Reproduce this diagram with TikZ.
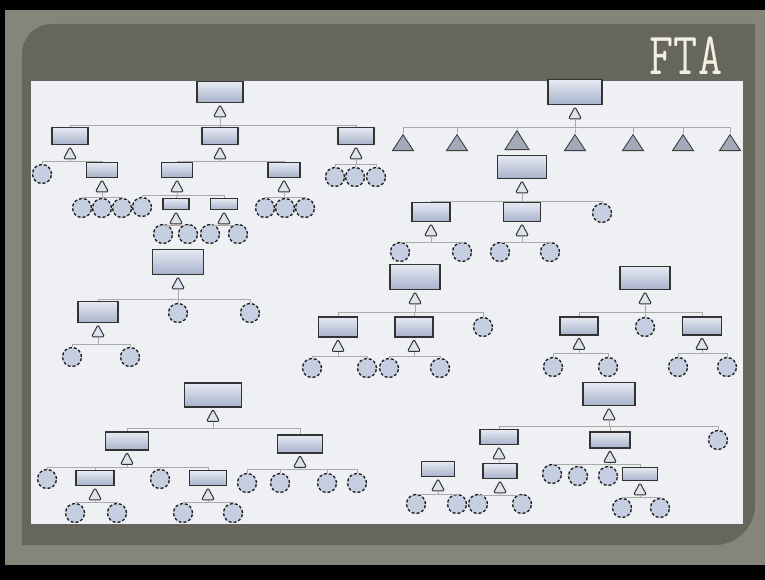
\documentclass[tikz,border=0pt]{standalone}
\usepackage{tikz}
\usepackage{graphicx}
\usetikzlibrary{positioning, shapes.geometric}

\definecolor{frameout}{HTML}{85857A}
\definecolor{framein}{HTML}{66665B}
\definecolor{sheet}{HTML}{EEF0F3}
\definecolor{boxtop}{HTML}{E6EAF3}
\definecolor{boxbot}{HTML}{A7B2CB}
\definecolor{evtfill}{HTML}{C6CEE1}
\definecolor{gatefill}{HTML}{DDE2EC}
\definecolor{xferfill}{HTML}{A2A9B8}
\definecolor{linkgray}{HTML}{A9A9A9}
\definecolor{titlecol}{HTML}{F1EFE2}

\newcommand{\gatefan}[3]{\foreach \c in {#3} \draw[link] (#1.south) -- ++(0,#2) -| (\c.north);}

\begin{document}
\begin{tikzpicture}[
    x=1pt, y=-1pt,
    box/.style 2 args={rectangle, draw=black!80, line width=1.1pt, top color=boxtop, bottom color=boxbot, minimum width=#1, minimum height=#2, inner sep=0pt},
    evt/.style={circle, draw=black!90, densely dashed, line width=1.3pt, fill=evtfill, minimum size=19pt, inner sep=0pt},
    gate/.style={isosceles triangle, isosceles triangle stretches, shape border rotate=90, draw=black!80, line width=1pt, fill=gatefill, minimum width=13pt, minimum height=12pt, inner sep=0pt, rounded corners=1.5pt},
    xfer/.style={isosceles triangle, isosceles triangle stretches, shape border rotate=90, draw=black!75, line width=0.9pt, fill=xferfill, minimum width=21pt, minimum height=16pt, inner sep=0pt},
    link/.style={draw=linkgray, line width=0.8pt},
    fta/.style={text=titlecol, font=\ttfamily\fontsize{60}{60}\selectfont, inner sep=0pt}
]
\useasboundingbox (0,0) rectangle (765,580);
\fill[black] (0,0) rectangle (765,580);
\fill[frameout] (5,10) rectangle (765,565);
\fill[framein] (22,545) -- (22,54) arc[start angle=180, end angle=270, radius=30] -- (755,24) -- (755,505) arc[start angle=0, end angle=90, radius=40] -- cycle;
\filldraw[fill=sheet, draw=black!60, line width=0.6pt] (30,80) rectangle (743,524);
\node[fta] (title) at (686,56) {\scalebox{0.78}[1]{FTA}};

\node[box={46pt}{21pt}] (top1) at (220,92) {};
\node[gate, below=0.5pt of top1] (gtop1) {};
\node[box={36pt}{17pt}] (s1a) at (70,136) {};
\node[box={36pt}{17pt}] (s1b) at (220,136) {};
\node[box={36pt}{17pt}] (s1c) at (356,136) {};
\gatefan{gtop1}{8}{s1a,s1b,s1c}
\node[gate, below=0.5pt of s1a] (gs1a) {};
\node[evt] (e1a) at (42,174) {};
\node[box={31pt}{15pt}] (s1d) at (102,170) {};
\gatefan{gs1a}{2}{e1a,s1d}
\node[gate, below=0.5pt of s1d] (gs1d) {};
\foreach \x/\n in {82/1,102/2,122/3} \node[evt] (e1d\n) at (\x,208) {};
\gatefan{gs1d}{5}{e1d1,e1d2,e1d3}
\node[gate, below=0.5pt of s1b] (gs1b) {};
\node[box={31pt}{15pt}] (s1e) at (177,170) {};
\node[box={32pt}{15pt}] (s1f) at (284,170) {};
\gatefan{gs1b}{2}{s1e,s1f}
\node[gate, below=0.5pt of s1e] (gs1e) {};
\node[evt] (e1e) at (142,207) {};
\node[box={26pt}{11pt}] (s1g) at (176,204) {};
\node[box={27pt}{11pt}] (s1h) at (224,204) {};
\gatefan{gs1e}{3}{e1e,s1g,s1h}
\node[gate, below=0.5pt of s1g] (gs1g) {};
\node[evt] (e1g1) at (163,234) {};
\node[evt] (e1g2) at (188,234) {};
\gatefan{gs1g}{1.5}{e1g1,e1g2}
\node[gate, below=0.5pt of s1h] (gs1h) {};
\node[evt] (e1h1) at (210,234) {};
\node[evt] (e1h2) at (238,234) {};
\gatefan{gs1h}{1.5}{e1h1,e1h2}
\node[gate, below=0.5pt of s1f] (gs1f) {};
\foreach \x/\n in {265/1,285/2,305/3} \node[evt] (e1f\n) at (\x,208) {};
\gatefan{gs1f}{5}{e1f1,e1f2,e1f3}
\node[gate, below=0.5pt of s1c] (gs1c) {};
\foreach \x/\n in {335/1,355/2,376/3} \node[evt] (e1c\n) at (\x,177) {};
\gatefan{gs1c}{5}{e1c1,e1c2,e1c3}

\node[box={54pt}{25pt}] (top2) at (575,92) {};
\node[gate, below=0.5pt of top2] (gtop2) {};
\foreach \x/\n in {403/1,457/2,575/4,633/5,683/6,730/7} \node[xfer] (x\n) at (\x,145) {};
\node[xfer, minimum width=24pt, minimum height=19pt] (x3) at (517,143) {};
\gatefan{gtop2}{8}{x1,x2,x3,x4,x5,x6,x7}
\node[box={49pt}{23pt}] (s2g) at (522,167) {};
\node[gate, below=0.5pt of s2g] (gs2g) {};
\node[box={38pt}{19pt}] (s2h) at (431,212) {};
\node[box={37pt}{19pt}] (s2i) at (522,212) {};
\node[evt] (e2g) at (602,213) {};
\gatefan{gs2g}{8}{s2h,s2i,e2g}
\node[gate, below=0.5pt of s2h] (gs2h) {};
\node[evt] (e2h1) at (400,252) {};
\node[evt] (e2h2) at (462,252) {};
\gatefan{gs2h}{6}{e2h1,e2h2}
\node[gate, below=0.5pt of s2i] (gs2i) {};
\node[evt] (e2i1) at (500,252) {};
\node[evt] (e2i2) at (550,252) {};
\gatefan{gs2i}{6}{e2i1,e2i2}

\node[box={51pt}{25pt}] (top3) at (178,262) {};
\node[gate, below=0.5pt of top3] (gtop3) {};
\node[box={40pt}{21pt}] (s3k) at (98,312) {};
\node[evt] (e3a) at (178,313) {};
\node[evt] (e3b) at (250,313) {};
\gatefan{gtop3}{10}{s3k,e3a,e3b}
\node[gate, below=0.5pt of s3k] (gs3k) {};
\node[evt] (e3k1) at (72,357) {};
\node[evt] (e3k2) at (130,357) {};
\gatefan{gs3k}{7}{e3k1,e3k2}

\node[box={50pt}{25pt}] (top4) at (415,277) {};
\node[gate, below=0.5pt of top4] (gtop4) {};
\node[box={39pt}{20pt}] (s4m) at (338,327) {};
\node[box={38pt}{20pt}] (s4n) at (414,327) {};
\node[evt] (e4a) at (483,327) {};
\gatefan{gtop4}{8}{s4m,s4n,e4a}
\node[gate, below=0.5pt of s4m] (gs4m) {};
\node[evt] (e4m1) at (312,368) {};
\node[evt] (e4m2) at (367,368) {};
\gatefan{gs4m}{5}{e4m1,e4m2}
\node[gate, below=0.5pt of s4n] (gs4n) {};
\node[evt] (e4n1) at (389,368) {};
\node[evt] (e4n2) at (440,368) {};
\gatefan{gs4n}{5}{e4n1,e4n2}

\node[box={50pt}{23pt}] (top5) at (645,278) {};
\node[gate, below=0.5pt of top5] (gtop5) {};
\node[box={38pt}{18pt}] (s5q) at (579,326) {};
\node[evt] (e5a) at (645,327) {};
\node[box={39pt}{18pt}] (s5s) at (702,326) {};
\gatefan{gtop5}{8}{s5q,e5a,s5s}
\node[gate, below=0.5pt of s5q] (gs5q) {};
\node[evt] (e5q1) at (553,367) {};
\node[evt] (e5q2) at (608,367) {};
\gatefan{gs5q}{4}{e5q1,e5q2}
\node[gate, below=0.5pt of s5s] (gs5s) {};
\node[evt] (e5s1) at (678,367) {};
\node[evt] (e5s2) at (727,367) {};
\gatefan{gs5s}{4}{e5s1,e5s2}

\node[box={57pt}{24pt}] (top6) at (213,395) {};
\node[gate, below=0.5pt of top6] (gtop6) {};
\node[box={43pt}{18pt}] (s6v) at (127,441) {};
\node[box={45pt}{18pt}] (s6w) at (300,444) {};
\gatefan{gtop6}{7}{s6v,s6w}
\node[gate, below=0.5pt of s6v] (gs6v) {};
\node[evt] (e6v1) at (47,479) {};
\node[box={38pt}{15pt}] (s6x) at (95,478) {};
\node[evt] (e6v2) at (160,479) {};
\node[box={37pt}{15pt}] (s6y) at (208,478) {};
\gatefan{gs6v}{3}{e6v1,s6x,e6v2,s6y}
\node[gate, below=0.5pt of s6x] (gs6x) {};
\node[evt] (e6x1) at (75,513) {};
\node[evt] (e6x2) at (117,513) {};
\gatefan{gs6x}{2}{e6x1,e6x2}
\node[gate, below=0.5pt of s6y] (gs6y) {};
\node[evt] (e6y1) at (183,513) {};
\node[evt] (e6y2) at (233,513) {};
\gatefan{gs6y}{2}{e6y1,e6y2}
\node[gate, below=0.5pt of s6w] (gs6w) {};
\foreach \x/\n in {247/1,280/2,327/3,357/4} \node[evt] (e6w\n) at (\x,483) {};
\gatefan{gs6w}{2}{e6w1,e6w2,e6w3,e6w4}

\node[box={52pt}{23pt}] (top7) at (609,394) {};
\node[gate, below=0.5pt of top7] (gtop7) {};
\node[box={38pt}{15pt}] (s7a) at (499,437) {};
\node[box={40pt}{16pt}] (s7b) at (610,440) {};
\node[evt] (e7a) at (718,440) {};
\gatefan{gtop7}{6}{s7a,s7b,e7a}
\node[gate, below=0.5pt of s7a] (gs7a) {};
\node[box={34pt}{15pt}] (s7c) at (500,471) {};
\draw[link] (gs7a.south) -- (s7c.north);
\node[gate, below=0.5pt of s7c] (gs7c) {};
\node[evt] (e7c1) at (478,504) {};
\node[evt] (e7c2) at (522,504) {};
\gatefan{gs7c}{2}{e7c1,e7c2}
\node[box={33pt}{15pt}] (s7d) at (438,469) {};
\node[gate, below=0.5pt of s7d] (gs7d) {};
\node[evt] (e7d1) at (416,504) {};
\node[evt] (e7d2) at (457,504) {};
\gatefan{gs7d}{3}{e7d1,e7d2}
\node[gate, below=0.5pt of s7b] (gs7b) {};
\node[evt] (e7b1) at (552,474) {};
\node[evt] (e7b2) at (578,476) {};
\node[evt] (e7b3) at (608,476) {};
\node[box={35pt}{13pt}] (s7e) at (640,474) {};
\gatefan{gs7b}{2}{e7b1,e7b2,e7b3,s7e}
\node[gate, below=0.5pt of s7e] (gs7e) {};
\node[evt] (e7e1) at (622,508) {};
\node[evt] (e7e2) at (660,508) {};
\gatefan{gs7e}{2}{e7e1,e7e2}
\end{tikzpicture}
\end{document}
